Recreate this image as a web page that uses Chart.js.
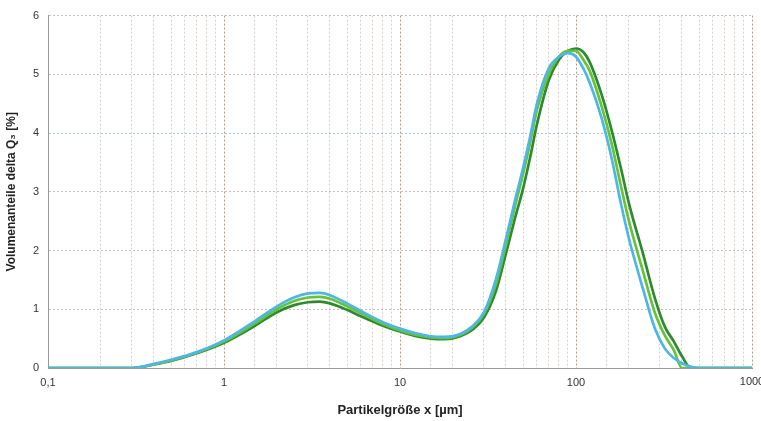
<!DOCTYPE html>
<html lang="de">
<head>
<meta charset="UTF-8">
<title>Partikelgrößenverteilung</title>
<script src="https://cdn.jsdelivr.net/npm/chart.js"></script>
<style>
    html, body { margin: 0; padding: 0; background: #fff; }
    #wrap { width: 761px; height: 421px; position: relative; }
</style>
</head>
<body>
<div id="wrap"><canvas id="chart"></canvas></div>
<script>
// particle size grid (µm)
const sizes = [0.1, 0.3, 0.4, 0.5, 0.7, 1, 1.5, 2, 2.5, 3, 3.5, 4, 5, 6, 8, 10, 12, 15, 18, 22, 26, 30, 35, 40, 45, 50, 55, 60, 70, 80, 90, 100, 110, 120, 140, 160, 180, 200, 240, 280, 320, 360, 400, 450, 500, 1000];

// delta Q3 [%] per measurement
const blueVals = [0, 0, 0.07, 0.14, 0.27, 0.47, 0.8, 1.05, 1.2, 1.27, 1.28, 1.24, 1.1, 0.97, 0.78, 0.67, 0.6, 0.54, 0.53, 0.58, 0.72, 0.95, 1.5, 2.2, 2.85, 3.4, 3.95, 4.5, 5.1, 5.3, 5.36, 5.3, 5.1, 4.85, 4.25, 3.55, 2.8, 2.2, 1.35, 0.68, 0.33, 0.17, 0.08, 0.02, 0, 0];
const lightVals = [0, 0, 0.06, 0.13, 0.26, 0.45, 0.76, 1.0, 1.14, 1.2, 1.21, 1.18, 1.05, 0.93, 0.75, 0.64, 0.57, 0.52, 0.51, 0.56, 0.7, 0.92, 1.42, 2.1, 2.75, 3.3, 3.85, 4.4, 5.0, 5.3, 5.4, 5.4, 5.25, 5.05, 4.45, 3.8, 3.1, 2.5, 1.65, 0.95, 0.55, 0.3, 0, 0, 0, 0];
const darkVals = [0, 0, 0.06, 0.12, 0.25, 0.43, 0.72, 0.95, 1.07, 1.12, 1.13, 1.1, 0.99, 0.88, 0.72, 0.62, 0.55, 0.5, 0.49, 0.54, 0.66, 0.86, 1.3, 1.95, 2.55, 3.05, 3.6, 4.15, 4.9, 5.25, 5.4, 5.44, 5.38, 5.2, 4.65, 4.03, 3.4, 2.8, 1.95, 1.2, 0.7, 0.45, 0.2, 0, 0, 0];

const decadeLabels = { 0.1: '0,1', 1: '1', 10: '10', 100: '100' };
const lastLabel = '1000'; // drawn separately so it can run off the edge like the original

const FONT = 'Liberation Sans, Arial, sans-serif';

function toPoints(vals) {
    return sizes.map((s, i) => ({ x: s, y: vals[i] }));
}

function lineSet(vals, color) {
    return {
        data: toPoints(vals),
        borderColor: color,
        borderWidth: 2.7,
        pointRadius: 0,
        fill: false,
        cubicInterpolationMode: 'monotone'
    };
}

function isDecade(v) {
    const l = Math.log10(v);
    return Math.abs(l - Math.round(l)) < 1e-6;
}

// draws the 1000 label without reserving space for it
const edgeLabel = {
    id: 'edgeLabel',
    afterDraw(chart) {
        const xs = chart.scales.x;
        const c = chart.ctx;
        c.save();
        c.font = '11px ' + FONT;
        c.fillStyle = '#333';
        c.textAlign = 'center';
        c.textBaseline = 'top';
        c.fillText(lastLabel, xs.getPixelForValue(1000), xs.top + 8);
        c.restore();
    }
};

const ctx = document.getElementById('chart').getContext('2d');
new Chart(ctx, {
    type: 'line',
    data: {
        datasets: [
            lineSet(blueVals, '#4fb6e3'),
            lineSet(lightVals, '#66c23a'),
            lineSet(darkVals, '#2e8a2e')
        ]
    },
    options: {
        responsive: true,
        maintainAspectRatio: false,
        animation: false,
        layout: { padding: { left: 0, right: 9, top: 14, bottom: 0 } },
        plugins: {
            legend: { display: false },
            tooltip: { enabled: false }
        },
        scales: {
            x: {
                type: 'logarithmic',
                min: 0.1,
                max: 1000,
                grid: {
                    drawTicks: false,
                    color: (c) => isDecade(c.tick.value) ? 'rgba(150,120,100,0.75)' : 'rgba(180,160,150,0.5)',
                    lineWidth: 1
                },
                border: { display: true, color: '#999', dash: [2, 2] },
                ticks: {
                    autoSkip: false,
                    maxRotation: 0,
                    padding: 8,
                    color: '#333',
                    font: { family: FONT, size: 11 },
                    callback: (v) => decadeLabels[v] !== undefined ? decadeLabels[v] : ''
                },
                title: {
                    display: true,
                    text: 'Partikelgröße x [µm]',
                    color: '#222',
                    font: { family: FONT, size: 13, weight: 'bold' },
                    padding: { top: 4, bottom: 3 }
                },
                afterFit: (s) => { s.height = 53; }
            },
            y: {
                min: 0,
                max: 6,
                grid: {
                    drawTicks: false,
                    color: (c) => c.tick.value === 4 ? 'rgba(120,170,220,0.7)' : 'rgba(170,140,150,0.6)'
                },
                border: { display: true, color: '#999', dash: [2, 2] },
                ticks: {
                    stepSize: 1,
                    padding: 9,
                    color: '#333',
                    font: { family: FONT, size: 11 }
                },
                title: {
                    display: true,
                    text: 'Volumenanteile delta Q₃ [%]',
                    color: '#222',
                    font: { family: FONT, size: 12, weight: 'bold' },
                    padding: { top: 4, bottom: 4 }
                },
                afterFit: (s) => { s.width = 48; }
            }
        }
    },
    plugins: [edgeLabel]
});
</script>
</body>
</html>
